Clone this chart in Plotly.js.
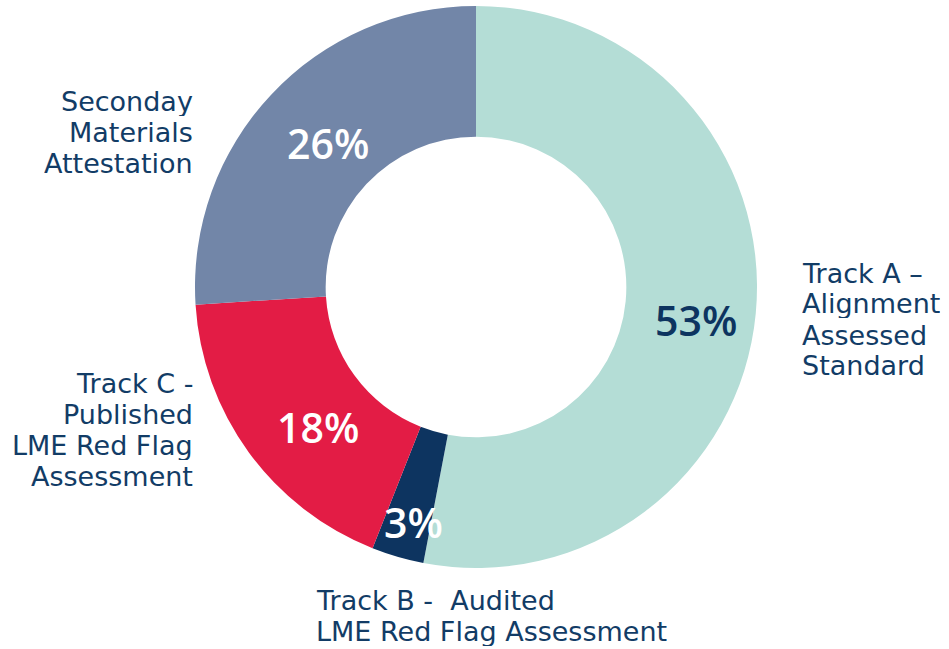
<!DOCTYPE html>
<html>
<head>
<meta charset="utf-8">
<script src="https://cdn.plot.ly/plotly-3.0.1.min.js"></script>
<style>html,body{margin:0;padding:0;background:#fff;}#chart{width:949px;height:649px;}</style>
</head>
<body>
<div id="chart"></div>
<script>
const categories = ["Track A – Alignment Assessed Standard", "Track B - Audited LME Red Flag Assessment", "Track C - Published LME Red Flag Assessment", "Seconday Materials Attestation"];
const values = [53, 3, 18, 26];
const colors = ["#b4ddd6", "#0d3460", "#e31c45", "#7286a8"];
const labelLines = [
  ["Track A –", "Alignment", "Assessed", "Standard"],
  ["Track B -  Audited", "LME Red Flag Assessment"],
  ["Track C -", "Published", "LME Red Flag", "Assessment"],
  ["Seconday", "Materials", "Attestation"]
];

const W = 949, H = 649;
const cx = 476, cy = 287, R = 281;

// label layout (pixel positions)
const labelPos = [
  {x: 801, y0: 273, align: "left"},
  {x: 315, y0: 600, align: "left"},
  {x: 194, y0: 383, align: "right"},
  {x: 194, y0: 101, align: "right"}
];
const pctPos = [[696, 320], [413, 522], [318, 427], [328, 143]];
const pctColor = ["#0d3460", "#ffffff", "#ffffff", "#ffffff"];
const lineGap = 31;

const total = values.reduce((a, b) => a + b, 0);
const annotations = [];
labelLines.forEach((lines, i) => {
  const p = labelPos[i];
  lines.forEach((t, j) => {
    annotations.push({
      text: t, xref: "paper", yref: "paper",
      x: p.x / W, y: 1 - (p.y0 + j * lineGap) / H,
      xanchor: p.align, yanchor: "middle", align: p.align,
      height: 29, borderpad: 0,
      showarrow: false,
      font: {family: "DejaVu Sans, sans-serif", size: 27, color: "#123c66"}
    });
  });
});
values.forEach((v, i) => {
  annotations.push({
    text: Math.round(v / total * 100) + "%", xref: "paper", yref: "paper",
    x: pctPos[i][0] / W, y: 1 - pctPos[i][1] / H,
    xanchor: "center", yanchor: "middle", showarrow: false,
    font: {family: "Open Sans, sans-serif", size: 41, color: pctColor[i], weight: 600}
  });
});

const data = [{
  type: "pie",
  labels: categories,
  values: values,
  sort: false,
  direction: "clockwise",
  rotation: 0,
  hole: 0.535,
  textinfo: "none",
  marker: {colors: colors, line: {width: 0}},
  domain: {x: [(cx - R) / W, (cx + R) / W], y: [(H - cy - R) / H, (H - cy + R) / H]},
  showlegend: false
}];

const layout = {
  width: W, height: H,
  margin: {l: 0, r: 0, t: 0, b: 0},
  paper_bgcolor: "#ffffff",
  showlegend: false,
  annotations: annotations
};

Plotly.newPlot("chart", data, layout, {displayModeBar: false, staticPlot: true});
</script>
</body>
</html>
